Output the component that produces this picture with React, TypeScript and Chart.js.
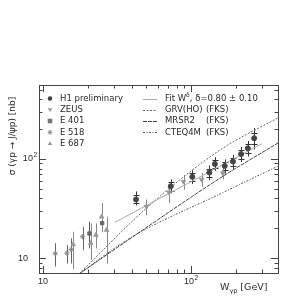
import React, { useEffect, useRef } from "react";
import { Chart, registerables } from "chart.js";
Chart.register(...registerables);

// ---- data (W in GeV, sigma in nb) ----
const h1W = [42.5, 73, 102, 133, 145, 169, 192, 218, 242, 267];
const h1S = [39, 53, 66, 73, 89, 85, 94, 112, 128, 162];
const h1Lo = [34, 45, 56, 61, 76, 71, 79, 93, 106, 125];
const h1Hi = [47, 62, 77, 86, 104, 99, 110, 132, 152, 205];
const h1StatLo = [36, 48, 60, 66, 81, 77, 85, 101, 115, 143];
const h1StatHi = [43, 58, 72, 80, 97, 93, 103, 123, 141, 182];

const zeusW = [50, 71, 89, 118, 164];
const zeusS = [33, 46, 59, 62, 72];
const zeusLo = [27, 36, 49, 52, 62];
const zeusHi = [39, 56, 69, 72, 83];

const e401W = [20.6, 25.1];
const e401S = [17.7, 22.5];
const e401Lo = [12.5, 18.4];
const e401Hi = [23.3, 35.7];

const e518W = [12.1, 14.5, 15.5, 18.5];
const e518S = [11.1, 11.2, 12.2, 16.4];
const e518Lo = [8.2, 8.8, 8.8, 12.0];
const e518Hi = [14.1, 13.5, 15.8, 20.7];

const e687W = [16.0, 21.0, 22.8, 24.9, 26.9];
const e687S = [13.7, 14.1, 17.1, 26.1, 19.2];
const e687Lo = [7.7, 9.6, 12.5, 18.4, 8.8];
const e687Hi = [18.4, 22.4, 22.4, 35.7, 26.1];

const fitW = [30.6, 300];
const fitS = [22.9, 142];
const grvW = [17.5, 52.8, 157, 390];
const grvS = [6.9, 34.3, 123, 262];
const mrsW = [17.5, 52.8, 157, 390];
const mrsS = [6.9, 21.5, 64, 146];
const cteW = [17.5, 38.7, 157, 390];
const cteS = [6.9, 15.9, 44.3, 85];

const xMajor = [10, 100];
const xMinor = [20, 30, 40, 50, 60, 70, 80, 90, 200, 300];
const yMajor = [10, 100];
const yMinor = [8, 9, 20, 30, 40, 50, 60, 70, 80, 90, 200, 300, 400, 500];

const FONT = "'Liberation Sans', Arial, sans-serif";
const LFONT = "'DejaVu Sans', sans-serif";
const TXT = "#2a2a2a";
const FRAME = "#444";

const pts = (w: number[], s: number[]) => w.map((x, i) => ({ x, y: s[i] }));

const errSets = [
  { w: h1W, lo: h1Lo, hi: h1Hi, sLo: h1StatLo, sHi: h1StatHi, color: "#333" },
  { w: zeusW, lo: zeusLo, hi: zeusHi, color: "#888" },
  { w: e401W, lo: e401Lo, hi: e401Hi, color: "#555" },
  { w: e518W, lo: e518Lo, hi: e518Hi, color: "#666" },
  { w: e687W, lo: e687Lo, hi: e687Hi, color: "#888" },
];

function marker(ctx: CanvasRenderingContext2D, style: string, x: number, y: number, r: number, color: string) {
  ctx.save();
  ctx.fillStyle = color;
  ctx.strokeStyle = color;
  ctx.lineWidth = 1;
  ctx.beginPath();
  if (style === "circle") {
    ctx.arc(x, y, r, 0, Math.PI * 2);
    ctx.fill();
  } else if (style === "tridown") {
    ctx.moveTo(x - r, y - r * 0.7);
    ctx.lineTo(x + r, y - r * 0.7);
    ctx.lineTo(x, y + r);
    ctx.closePath();
    ctx.fill();
  } else if (style === "triup") {
    ctx.moveTo(x - r, y + r * 0.7);
    ctx.lineTo(x + r, y + r * 0.7);
    ctx.lineTo(x, y - r);
    ctx.closePath();
    ctx.fill();
  } else if (style === "rect") {
    ctx.fillRect(x - r, y - r, 2 * r, 2 * r);
  } else if (style === "star") {
    for (let k = 0; k < 4; k++) {
      const a = (k * Math.PI) / 4;
      ctx.moveTo(x - r * Math.cos(a), y - r * Math.sin(a));
      ctx.lineTo(x + r * Math.cos(a), y + r * Math.sin(a));
    }
    ctx.stroke();
  }
  ctx.restore();
}

function pow10(ctx: CanvasRenderingContext2D, exp: string, x: number, y: number, align: "center" | "right") {
  ctx.save();
  ctx.font = `9px ${FONT}`;
  const wb = ctx.measureText("10").width;
  ctx.font = `6.5px ${FONT}`;
  const we = exp ? ctx.measureText(exp).width + 0.5 : 0;
  const total = wb + we;
  const left = align === "center" ? x - total / 2 : x - total;
  ctx.textAlign = "left";
  ctx.textBaseline = "middle";
  ctx.fillStyle = TXT;
  ctx.font = `9px ${FONT}`;
  ctx.fillText("10", left, y);
  if (exp) {
    ctx.font = `6.5px ${FONT}`;
    ctx.fillText(exp, left + wb + 0.5, y - 4);
  }
  ctx.restore();
}

const decor = {
  id: "decor",
  beforeDatasetsDraw(chart: any) {
    const ctx: CanvasRenderingContext2D = chart.ctx;
    const xs = chart.scales.x;
    const ys = chart.scales.y;
    const a = chart.chartArea;
    ctx.save();
    ctx.beginPath();
    ctx.rect(a.left, a.top, a.right - a.left, a.bottom - a.top);
    ctx.clip();
    ctx.lineWidth = 1;
    for (const e of errSets) {
      ctx.strokeStyle = e.color;
      e.w.forEach((w: number, i: number) => {
        const px = Math.round(xs.getPixelForValue(w)) + 0.5;
        ctx.beginPath();
        ctx.moveTo(px, ys.getPixelForValue(e.lo[i]));
        ctx.lineTo(px, ys.getPixelForValue(e.hi[i]));
        ctx.stroke();
        if ((e as any).sLo) {
          for (const v of [(e as any).sLo[i], (e as any).sHi[i]]) {
            const py = Math.round(ys.getPixelForValue(v)) + 0.5;
            ctx.beginPath();
            ctx.moveTo(px - 3, py);
            ctx.lineTo(px + 3, py);
            ctx.stroke();
          }
        }
      });
    }
    ctx.restore();
  },
  afterDraw(chart: any) {
    const ctx: CanvasRenderingContext2D = chart.ctx;
    const xs = chart.scales.x;
    const ys = chart.scales.y;
    const a = chart.chartArea;
    ctx.save();
    // frame
    ctx.strokeStyle = FRAME;
    ctx.lineWidth = 1;
    ctx.strokeRect(Math.round(a.left) + 0.5, Math.round(a.top) + 0.5, Math.round(a.right - a.left), Math.round(a.bottom - a.top));
    // ticks
    const tick = (vals: number[], len: number) => {
      for (const v of vals) {
        const px = Math.round(xs.getPixelForValue(v)) + 0.5;
        ctx.beginPath();
        ctx.moveTo(px, a.bottom);
        ctx.lineTo(px, a.bottom - len);
        ctx.moveTo(px, a.top);
        ctx.lineTo(px, a.top + len);
        ctx.stroke();
      }
    };
    const ytick = (vals: number[], len: number) => {
      for (const v of vals) {
        const py = Math.round(ys.getPixelForValue(v)) + 0.5;
        ctx.beginPath();
        ctx.moveTo(a.left, py);
        ctx.lineTo(a.left + len, py);
        ctx.moveTo(a.right, py);
        ctx.lineTo(a.right - len, py);
        ctx.stroke();
      }
    };
    tick(xMajor, 7);
    tick(xMinor, 3.5);
    ytick(yMajor, 7);
    ytick(yMinor, 3.5);
    // tick labels
    pow10(ctx, "", xs.getPixelForValue(xMajor[0]), a.bottom + 9, "center");
    pow10(ctx, "2", xs.getPixelForValue(xMajor[1]), a.bottom + 9, "center");
    pow10(ctx, "", 28, ys.getPixelForValue(yMajor[0]), "right");
    pow10(ctx, "2", 37, ys.getPixelForValue(yMajor[1]), "right");

    // axis titles
    ctx.fillStyle = TXT;
    ctx.textBaseline = "middle";
    ctx.save();
    ctx.translate(13, 136);
    ctx.rotate(-Math.PI / 2);
    ctx.textAlign = "center";
    ctx.font = `9px ${LFONT}`;
    ctx.fillText("σ (γp → J/ψp) [nb]", 0, 0);
    ctx.restore();

    ctx.textAlign = "left";
    ctx.font = `9.5px ${LFONT}`;
    let tx = 220;
    const ty = 288;
    ctx.fillText("W", tx, ty);
    tx += ctx.measureText("W").width;
    ctx.font = `6.5px ${LFONT}`;
    ctx.fillText("γp", tx, ty + 3);
    tx += ctx.measureText("γp").width + 3;
    ctx.font = `9.5px ${LFONT}`;
    ctx.fillText("[GeV]", tx, ty);

    // legend (markers)
    const rows = [98.5, 109.8, 121, 132.3, 143.5];
    const mk = [
      { s: "circle", c: "#444", t: "H1 preliminary" },
      { s: "tridown", c: "#999", t: "ZEUS" },
      { s: "rect", c: "#777", t: "E 401" },
      { s: "star", c: "#888", t: "E 518" },
      { s: "triup", c: "#999", t: "E 687" },
    ];
    ctx.font = `8.5px ${LFONT}`;
    mk.forEach((m, i) => {
      marker(ctx, m.s, 50, rows[i], 2.3, m.c);
      ctx.fillStyle = TXT;
      ctx.fillText(m.t, 60, rows[i]);
    });
    // legend (lines)
    const ls = [
      { d: [] as number[], c: "#aaa", t: "Fit W", f: true },
      { d: [2, 1.5], c: "#666", t: "GRV(HO)" },
      { d: [4, 1], c: "#444", t: "MRSR2" },
      { d: [2, 1.5, 1, 1.5], c: "#555", t: "CTEQ4M" },
    ];
    ls.forEach((l, i) => {
      const y = Math.round(rows[i]) + 0.5;
      ctx.save();
      ctx.strokeStyle = l.c;
      ctx.setLineDash(l.d);
      ctx.beginPath();
      ctx.moveTo(143, y);
      ctx.lineTo(157, y);
      ctx.stroke();
      ctx.restore();
      ctx.fillStyle = TXT;
      ctx.font = `8.5px ${LFONT}`;
      if (l.f) {
        let x = 165;
        ctx.fillText("Fit W", x, rows[i]);
        x += ctx.measureText("Fit W").width;
        ctx.font = `6px ${LFONT}`;
        ctx.fillText("δ", x, rows[i] - 3.5);
        x += ctx.measureText("δ").width;
        ctx.font = `8.5px ${LFONT}`;
        ctx.fillText(", δ=0.80 ± 0.10", x, rows[i]);
      } else {
        ctx.fillText(l.t, 165, rows[i]);
        ctx.fillText("(FKS)", 206, rows[i]);
      }
    });
    ctx.restore();
  },
};

export default function App() {
  const ref = useRef<HTMLCanvasElement | null>(null);
  useEffect(() => {
    if (!ref.current) return;
    const lineDs = (label: string, w: number[], s: number[], color: string, dash: number[]) => ({
      label,
      data: pts(w, s),
      showLine: true,
      borderColor: color,
      borderWidth: 1,
      borderDash: dash,
      pointRadius: 0,
      tension: 0.4,
      cubicInterpolationMode: "monotone" as const,
      fill: false,
    });
    const ptDs = (label: string, w: number[], s: number[], style: string, color: string, r: number, rot = 0) => ({
      label,
      data: pts(w, s),
      showLine: false,
      pointStyle: style,
      rotation: rot,
      pointRadius: r,
      backgroundColor: color,
      borderColor: color,
      borderWidth: 1,
    });
    const chart = new Chart(ref.current, {
      type: "scatter",
      data: {
        datasets: [
          ptDs("H1 preliminary", h1W, h1S, "circle", "#444", 2.5),
          ptDs("ZEUS", zeusW, zeusS, "triangle", "#999", 2.6, 180),
          ptDs("E 401", e401W, e401S, "rect", "#666", 2.3),
          ptDs("E 518", e518W, e518S, "star", "#888", 2.6),
          ptDs("E 687", e687W, e687S, "triangle", "#999", 2.6),
          lineDs("Fit", fitW, fitS, "#aaa", []),
          lineDs("GRV(HO) (FKS)", grvW, grvS, "#666", [2, 1.5]),
          lineDs("MRSR2 (FKS)", mrsW, mrsS, "#444", [4, 1]),
          lineDs("CTEQ4M (FKS)", cteW, cteS, "#555", [2, 1.5, 1, 1.5]),
        ] as any,
      },
      options: {
        animation: false,
        responsive: false,
        maintainAspectRatio: false,
        layout: { padding: { top: 85, right: 22, left: 0, bottom: 0 } },
        plugins: { legend: { display: false }, tooltip: { enabled: false } },
        scales: {
          x: {
            type: "logarithmic",
            min: 9.4,
            max: 387,
            grid: { display: false },
            border: { display: false },
            ticks: { display: false },
            afterFit: (s: any) => { s.height = 27; },
          },
          y: {
            type: "logarithmic",
            min: 7.06,
            max: 558,
            grid: { display: false },
            border: { display: false },
            ticks: { display: false },
            afterFit: (s: any) => { s.width = 39; },
          },
        },
      } as any,
      plugins: [decor],
    });
    return () => chart.destroy();
  }, []);
  return (
    <div style={{ position: "fixed", left: 0, top: 0, width: 300, height: 300, background: "#fff" }}>
      <canvas ref={ref} width={300} height={300} style={{ width: 300, height: 300, display: "block" }} />
    </div>
  );
}
